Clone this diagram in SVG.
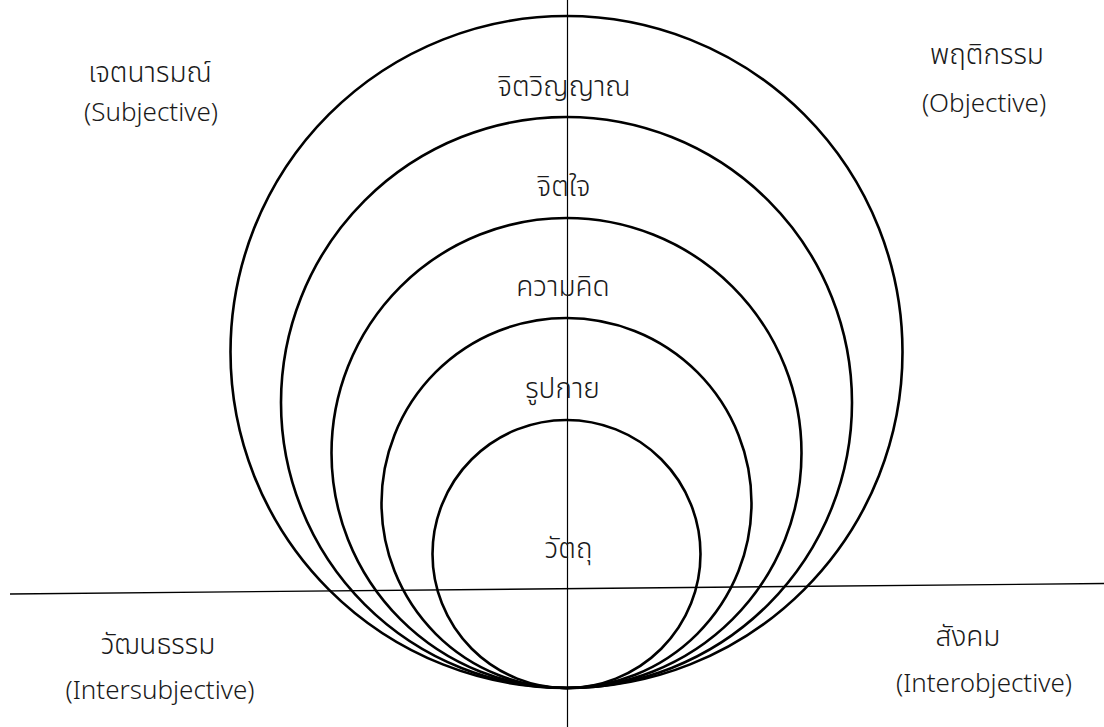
<svg xmlns="http://www.w3.org/2000/svg" width="1104" height="727" viewBox="0 0 1104 727">
<style>
.c{fill:none;stroke:#000;stroke-width:2.6}
.ax{stroke:#000;fill:none}
text{font-family:"Noto Sans Thai","Leelawadee UI","Noto Sans",sans-serif;font-size:28px;font-weight:300;fill:#1a1a1a;text-anchor:middle}
text.en{font-size:26px}
</style>
<rect width="1104" height="727" fill="#fff"/>
<g id="circles">
<g id="c1"><circle class="c" cx="566.5" cy="352" r="336"/></g>
<g id="c2"><circle class="c" cx="566.5" cy="402.5" r="285.5"/></g>
<g id="c3"><circle class="c" cx="566.5" cy="453" r="235"/></g>
<g id="c4"><circle class="c" cx="566.5" cy="503" r="185"/></g>
<g id="c5"><circle class="c" cx="566.5" cy="554" r="134"/></g>
</g>
<g id="connectors">
<line class="ax" x1="567.5" y1="0" x2="567.5" y2="727" stroke-width="1.2"/>
<line class="ax" x1="10" y1="594" x2="1104" y2="583.5" stroke-width="1.4"/>
</g>
<g id="labels">
<g id="l1"><text x="564" y="96">จิตวิญญาณ</text></g>
<g id="l2"><text x="563.5" y="196">จิตใจ</text></g>
<g id="l3"><text x="563" y="296">ความคิด</text></g>
<g id="l4"><text x="562.5" y="398">รูปกาย</text></g>
<g id="l5"><text x="568.5" y="558">วัตถุ</text></g>
<g id="q1"><text x="150" y="82">เจตนารมณ์</text><text class="en" x="151" y="121">(Subjective)</text></g>
<g id="q2"><text x="987" y="64">พฤติกรรม</text><text class="en" x="984" y="112">(Objective)</text></g>
<g id="q3"><text x="158" y="654">วัฒนธรรม</text><text class="en" x="160" y="699">(Intersubjective)</text></g>
<g id="q4"><text x="968" y="646">สังคม</text><text class="en" x="984" y="692">(Interobjective)</text></g>
</g>
</svg>
